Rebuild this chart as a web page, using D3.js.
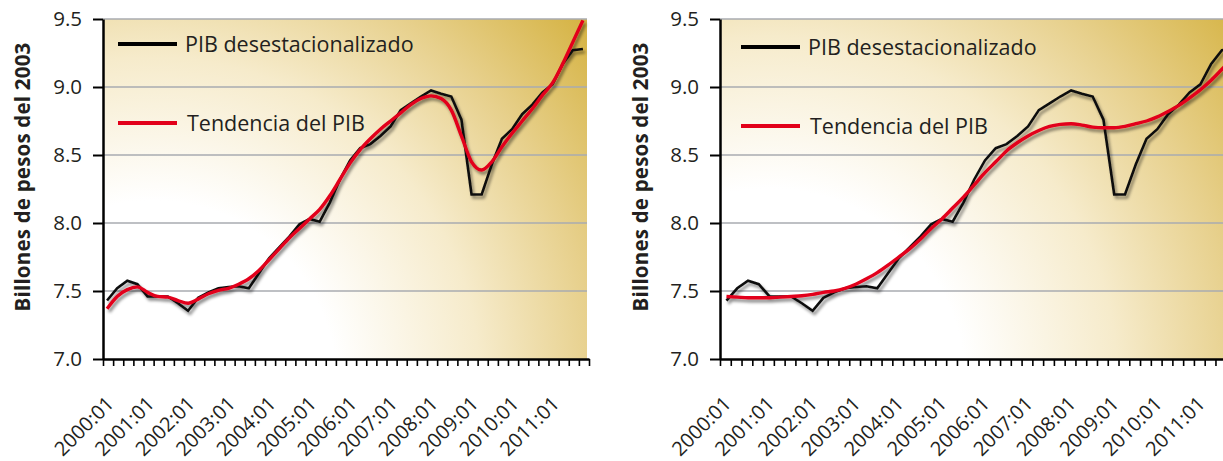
<!DOCTYPE html>
<html>
<head>
<meta charset="utf-8">
<script src="https://cdn.jsdelivr.net/npm/d3@7"></script>
<style>
  body { margin: 0; background: #ffffff; }
  svg { display: block; }
  text { font-family: "Open Sans", "Noto Sans", sans-serif; fill: #231f20; }
</style>
</head>
<body>
<svg id="chart" width="1223" height="461"></svg>
<script>
// Quarterly GDP (billions of 2003 pesos), seasonally adjusted, with two trend estimates
const years = [2000, 2001, 2002, 2003, 2004, 2005, 2006, 2007, 2008, 2009, 2010, 2011];
const quarterCodes = ["01", "02", "03", "04"];
const quarters = years.flatMap(y => quarterCodes.map(q => `${y}:${q}`));
const yearLabels = years.map(y => `${y}:01`);
const yTicks = [7.0, 7.5, 8.0, 8.5, 9.0, 9.5];

const pib = [
  7.43, 7.52, 7.575, 7.55, 7.46, 7.46, 7.46, 7.41, 7.355, 7.45, 7.49, 7.52,
  7.53, 7.535, 7.52, 7.63, 7.74, 7.82, 7.90, 7.99, 8.03, 8.01, 8.15, 8.32,
  8.46, 8.55, 8.58, 8.64, 8.71, 8.83, 8.88, 8.93, 8.975, 8.95, 8.93, 8.76,
  8.21, 8.21, 8.43, 8.62, 8.69, 8.80, 8.87, 8.96, 9.02, 9.17, 9.27, 9.28
];

// Short-run trend (follows the series closely)
const trendShort = [
  7.37, 7.46, 7.51, 7.53, 7.49, 7.46, 7.455, 7.43, 7.41, 7.44, 7.48, 7.505,
  7.52, 7.55, 7.59, 7.65, 7.73, 7.81, 7.89, 7.96, 8.03, 8.10, 8.20, 8.32,
  8.44, 8.54, 8.62, 8.69, 8.75, 8.81, 8.87, 8.915, 8.935, 8.915, 8.83, 8.64,
  8.45, 8.39, 8.45, 8.56, 8.66, 8.75, 8.84, 8.94, 9.03, 9.17, 9.33, 9.49
];

// Long-run trend (smooth)
const trendLong = [
  7.46, 7.455, 7.45, 7.45, 7.45, 7.455, 7.46, 7.465, 7.475, 7.49, 7.50, 7.52,
  7.55, 7.59, 7.635, 7.69, 7.75, 7.81, 7.88, 7.96, 8.03, 8.11, 8.19, 8.28,
  8.37, 8.45, 8.53, 8.59, 8.64, 8.68, 8.71, 8.725, 8.73, 8.72, 8.705, 8.70,
  8.70, 8.71, 8.73, 8.75, 8.78, 8.82, 8.865, 8.92, 8.98, 9.05, 9.13, 9.21
];

const legendLabels = ["PIB desestacionalizado", "Tendencia del PIB"];
const yTitle = "Billones de pesos del 2003";

const svg = d3.select("#chart");
const defs = svg.append("defs");

// soft drop shadow under the series lines
const shadow = defs.append("filter").attr("id", "shadow")
  .attr("x", "-5%").attr("y", "-5%").attr("width", "110%").attr("height", "115%");
shadow.append("feDropShadow")
  .attr("dx", 2).attr("dy", 3).attr("stdDeviation", 1.6)
  .attr("flood-color", "#000").attr("flood-opacity", 0.45);

const plotTop = 19, plotBottom = 359;
const y = d3.scaleLinear().domain([7, 9.5]).range([plotBottom, plotTop]);

const panels = [
  { id: "a", left: 103, right: 589, trend: trendShort, offset: 0.4, legendX: 118, legendY: [44, 123], titleX: 30 },
  { id: "b", left: 720, right: 1237, trend: trendLong, offset: 0.6, legendX: 741, legendY: [47, 126], titleX: 648 }
];

panels.forEach(p => {
  const g = svg.append("g");
  const x = d3.scaleBand().domain(quarters).range([p.left, p.right]).padding(0);
  const bw = x.bandwidth();
  const px = d => x(d) + bw * p.offset;

  // background shading
  const grad = defs.append("radialGradient").attr("id", "bg-" + p.id)
    .attr("gradientUnits", "userSpaceOnUse")
    .attr("cx", p.left + 50).attr("cy", plotBottom + 25)
    .attr("r", (p.right - p.left) * 1.18);
  [[0, "#ffffff"], [0.32, "#ffffff"], [0.57, "#f6ebcb"], [0.77, "#e7d08c"], [1, "#d4b13e"]]
    .forEach(([o, c]) => grad.append("stop").attr("offset", o).attr("stop-color", c));
  g.append("rect")
    .attr("x", p.left).attr("y", plotTop)
    .attr("width", p.right - 2 - p.left).attr("height", plotBottom - plotTop)
    .attr("fill", `url(#bg-${p.id})`);

  // horizontal grid
  g.append("g").selectAll("line").data(yTicks.filter(v => v > 7)).join("line")
    .attr("x1", p.left).attr("x2", p.right - 2)
    .attr("y1", d => y(d)).attr("y2", d => y(d))
    .attr("stroke", "#a9abb0").attr("stroke-width", 1.6);

  // y axis
  const yAxis = g.append("g").attr("transform", `translate(${p.left},0)`)
    .call(d3.axisLeft(y).tickValues(yTicks).tickSize(10).tickSizeOuter(0)
      .tickPadding(11).tickFormat(d3.format(".1f")));
  yAxis.select(".domain").attr("stroke", "#000").attr("stroke-width", 2.5);
  yAxis.selectAll(".tick line").attr("stroke", "#000").attr("stroke-width", 2);
  yAxis.selectAll(".tick text").style("font-size", "20.5px").attr("fill", "#231f20")
    .attr("dy", "0.34em")
    .style("font-family", "'Open Sans', sans-serif");

  // x axis with one tick per quarter boundary
  const xt = d3.scaleLinear().domain([0, quarters.length]).range([p.left, p.right]);
  const xAxis = g.append("g").attr("transform", `translate(0,${plotBottom})`)
    .call(d3.axisBottom(xt).tickValues(d3.range(quarters.length + 1)).tickSize(7)
      .tickSizeOuter(0).tickFormat(""));
  xAxis.select(".domain").attr("stroke", "#000").attr("stroke-width", 2.5);
  xAxis.selectAll(".tick line").attr("stroke", "#000").attr("stroke-width", 1.6);

  // rotated year labels
  g.append("g").selectAll("text").data(yearLabels).join("text")
    .attr("text-anchor", "end")
    .attr("transform", d => `translate(${x(d) + bw / 2 + 7},${plotBottom + 46}) rotate(-45)`)
    .style("font-size", "20px")
    .text(d => d);

  // y title
  g.append("text")
    .attr("text-anchor", "middle")
    .attr("transform", `translate(${p.titleX},177) rotate(-90)`)
    .style("font-size", "20.5px").style("font-weight", "700")
    .style("letter-spacing", "0.2px")
    .text(yTitle);

  // series
  const lines = g.append("g").attr("filter", "url(#shadow)");
  const black = d3.line().x((d, i) => px(quarters[i])).y(d => y(d));
  const smooth = d3.line().x((d, i) => px(quarters[i])).y(d => y(d)).curve(d3.curveMonotoneX);
  lines.append("path").datum(pib).attr("d", black)
    .attr("fill", "none").attr("stroke", "#111").attr("stroke-width", 2.6)
    .attr("stroke-linejoin", "miter");
  lines.append("path").datum(p.trend).attr("d", smooth)
    .attr("fill", "none").attr("stroke", "#e2001a").attr("stroke-width", 3.4);

  // legend
  const colors = ["#000", "#e2001a"];
  legendLabels.forEach((lab, k) => {
    const ly = p.legendY[k];
    g.append("line").attr("x1", p.legendX).attr("x2", p.legendX + 59)
      .attr("y1", ly).attr("y2", ly).attr("stroke", colors[k]).attr("stroke-width", 4.2);
    g.append("text").attr("x", p.legendX + 67 + k * 2).attr("y", ly + 7.5)
      .style("font-size", "21.5px").text(lab);
  });
});
</script>
</body>
</html>
